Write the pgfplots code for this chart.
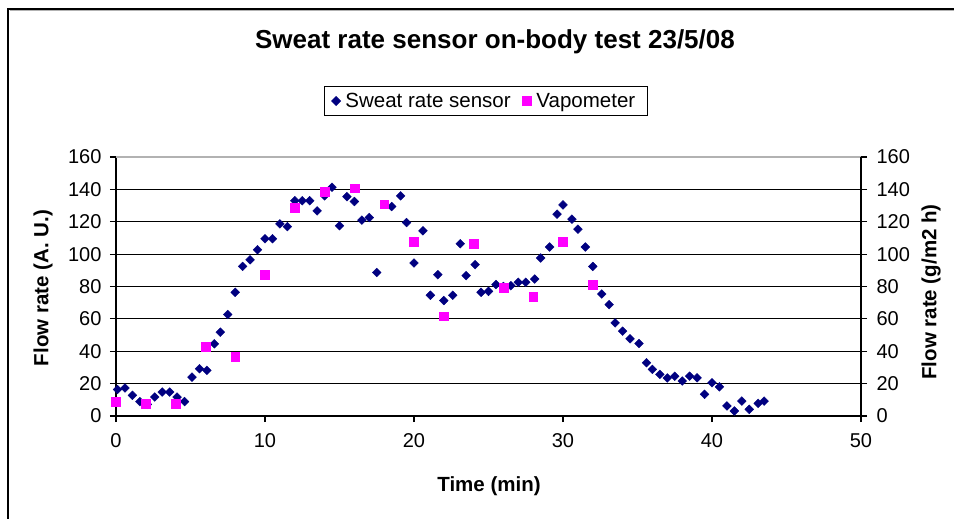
\documentclass[border=0pt]{standalone}
\usepackage{pgfplots}
\pgfplotsset{compat=1.18}
\usepackage{fontspec}
\setmainfont{Liberation Sans}
\definecolor{navy}{RGB}{0,0,128}
\definecolor{mag}{RGB}{255,0,255}
\pgfplotstableread{
x y
0.1 16.4
0.6 17.3
1.1 12.8
1.6 8.9
2.1 7.2
2.6 11.7
3.1 14.8
3.6 14.8
4.1 11.7
4.6 8.9
5.1 24
5.6 29.2
6.1 28.2
6.6 44.6
7.0 51.8
7.5 62.7
8.0 76.4
8.5 92.4
9.0 96.5
9.5 102.7
10.0 109.5
10.5 109.5
11.0 118.7
11.5 117
12.0 133
12.5 133
13.0 133
13.5 126.7
14.0 136
14.5 141.3
15.0 117.5
15.5 135.5
16.0 132.5
16.5 121
17.0 122.6
17.5 88.7
18.5 129.4
19.1 136
19.5 119.5
20.0 94.5
20.6 114.4
21.1 74.6
21.6 87.3
22.0 71.3
22.6 74.6
23.1 106.4
23.5 86.7
24.1 93.5
24.5 76.4
25.0 77
25.5 81.2
26.0 80
26.5 80.5
27.0 82.6
27.5 82.6
28.1 84.6
28.5 97.6
29.1 104.4
29.6 124.7
30.0 130.4
30.6 121.6
31.0 115.4
31.5 104.4
32.0 92.4
32.6 75.4
33.1 68.8
33.5 57.5
34.0 52.4
34.5 47.7
35.1 44.8
35.6 32.9
36.0 28.8
36.5 25.7
37.0 23.5
37.5 24.6
38.0 21.6
38.5 24.6
39.0 23.6
39.5 13.4
40.0 20.5
40.5 18
41.0 6.2
41.5 3.1
42.0 9.2
42.5 4.1
43.1 7.8
43.5 9.2
}\sensor
\pgfplotstableread{
x y
0 8.6
2 7.4
4 7.8
6 43
8 36.6
10 87.3
12 128.8
14 138.6
16 140.7
18 130.8
20 107.5
22 61.6
24 106.2
26 79.5
28 73.6
30 107.5
32 81.3
}\vapo
\begin{document}
\begin{tikzpicture}
\path[use as bounding box] (-116bp,-103bp) rectangle (838bp,416bp);
\draw[line width=1.3bp] (-108bp,-110bp) -- (-108bp,407bp) -- (845bp,407bp);
\draw[line width=1bp, gray!60] (-106bp,405.5bp) -- (845bp,405.5bp);
\pgfplotsset{
  every axis/.append style={
    scale only axis, width=745bp, height=259bp,
    xmin=0, xmax=50, ymin=0, ymax=160,
    ytick={0,20,...,160},
    tick align=outside, major tick length=6bp,
    tick style={black, line width=1.2bp},
    ticklabel style={font=\fontsize{20bp}{24bp}\selectfont},
    /pgf/number format/assume math mode=true,
  }
}
\begin{axis}[
  axis x line*=bottom, axis y line*=left,
  axis line style={black, line width=1.3bp},
  xtick={0,10,...,50},
  yticklabel style={xshift=-5bp},
  xticklabel style={yshift=-8bp},
  ymajorgrids, grid style={black, line width=1.2bp},
  legend style={at={(0.4966,1.216)}, anchor=center, draw=black, line width=0.9bp,
    font=\fontsize{20.5bp}{24bp}\selectfont, legend columns=-1,
    inner xsep=7bp, inner ysep=5bp,
    nodes={inner xsep=5bp},
    /tikz/every even column/.append style={column sep=7bp}},
  legend image code/.code={\draw[#1] plot coordinates {(3bp,0bp)};},
]
\draw[gray!60, line width=1.2bp] (axis cs:0,160) -- (axis cs:50,160);
\addplot[only marks, mark=square*, mark size=3.1bp, mark options={rotate=45, fill=navy, draw=navy}] table {\sensor};
\addlegendentry{Sweat rate sensor}
\addplot[only marks, mark=square*, mark size=4.4bp, mark options={fill=mag, draw=mag}] table {\vapo};
\addlegendentry{Vapometer}
\end{axis}
\begin{axis}[
  axis x line=none, axis y line*=right,
  axis line style={black, line width=1.3bp},
  yticklabel style={xshift=6bp},
  xtick=\empty,
]
\end{axis}
\node[font=\fontsize{26bp}{30bp}\selectfont\bfseries] at (379bp,374bp) {Sweat rate sensor on-body test 23/5/08};
\node[font=\fontsize{20.5bp}{24bp}\selectfont\bfseries, rotate=90] at (-73bp,128bp) {Flow rate (A. U.)};
\node[font=\fontsize{20.5bp}{24bp}\selectfont\bfseries, rotate=90] at (815bp,124bp) {Flow rate (g/m2 h)};
\node[font=\fontsize{20.5bp}{24bp}\selectfont\bfseries] at (373bp,-70bp) {Time (min)};
\end{tikzpicture}
\end{document}
